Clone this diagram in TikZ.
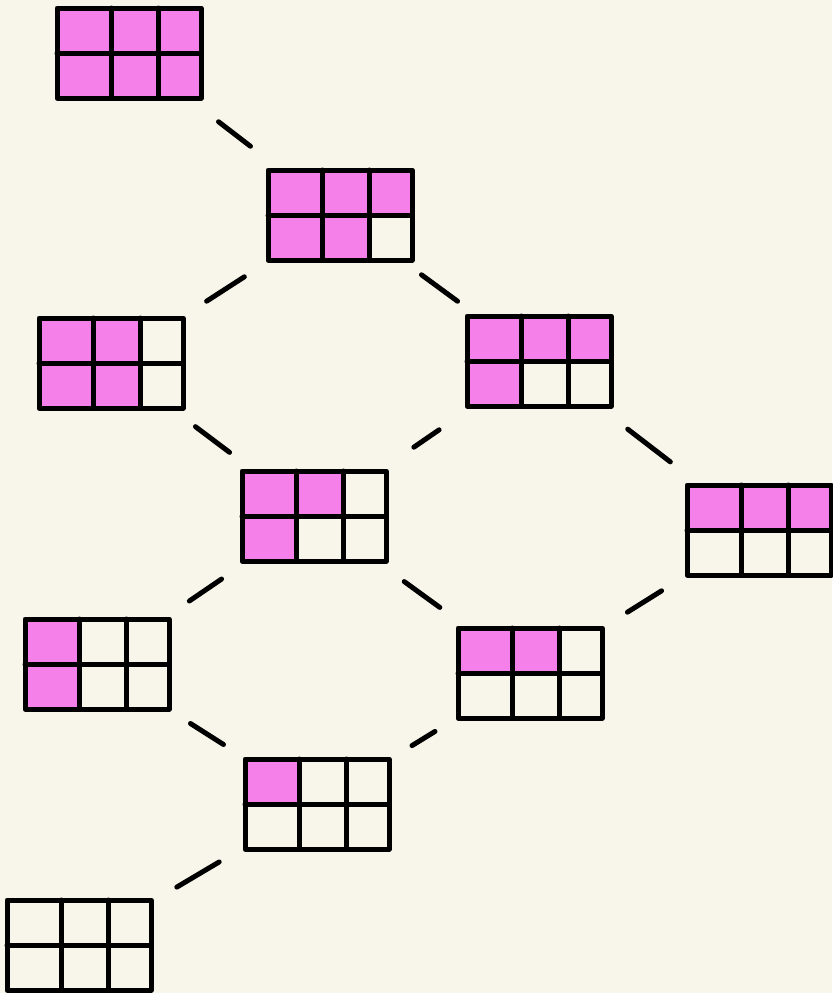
\documentclass[tikz,border=0pt]{standalone}
\usetikzlibrary{calc}
\definecolor{paper}{RGB}{248,246,234}
\definecolor{tilepink}{RGB}{246,128,233}
\tikzstyle{tile} = [rectangle, minimum width=72pt, minimum height=45pt, inner sep=0pt, outer sep=0pt]
\tikzstyle{rule} = [line width=2.5pt, line cap=round, line join=round]
\tikzset{
    link/.style={line width=2.5pt, line cap=round, shorten <=#1, shorten >=#1},
    link/.default=15pt,
}
% right edges of the three columns, measured from the left side
\newcommand{\colwidth}[1]{\ifcase#1 0pt\or 27pt\or 50.5pt\else 72pt\fi}
% #1 name, #2 position, #3 cells in top row, #4 cells in bottom row
\newcommand{\tableau}[4]{%
    \node[tile] (#1) at (#2) {};
    \ifnum#3>0 \fill[tilepink, rounded corners=3pt] (#1.north west) rectangle ++(\colwidth{#3},-22.5pt);\fi
    \ifnum#4>0 \fill[tilepink, rounded corners=3pt] (#1.west) rectangle ++(\colwidth{#4},-22.5pt);\fi
    \draw[rule] (#1.north west) rectangle (#1.south east);
    \draw[rule] (#1.west) -- (#1.east);
    \foreach \k in {27pt,50.5pt}
        \draw[rule] ($(#1.north west)+(\k,0)$) -- ($(#1.south west)+(\k,0)$);
}

\begin{document}
\begin{tikzpicture}[x=0.5pt, y=-0.5pt]
    \fill[paper] (0,0) rectangle (832,993);
    \useasboundingbox (0,0) rectangle (832,993);

    \tableau{p33}{129,53}{3}{3}
    \tableau{p32}{340,215}{3}{2}
    \tableau{p22}{111,363}{2}{2}
    \tableau{p31}{539,361}{3}{1}
    \tableau{p21}{314,516}{2}{1}
    \tableau{p3}{759,530}{3}{0}
    \tableau{p11}{97,664}{1}{1}
    \tableau{p2}{530,673}{2}{0}
    \tableau{p1}{317,804}{1}{0}
    \tableau{p0}{79,945}{0}{0}

    \draw[link=19.5pt] (p33) -- (p32);
    \draw[link=15.5pt] (p32) -- (p22);
    \draw[link=12.5pt] (p32) -- (p31);
    \draw[link=15.5pt] (p22) -- (p21);
    \draw[link=21pt] (p31) -- (p21);
    \draw[link=19pt] (p31) -- (p3);
    \draw[link=16pt] (p21) -- (p11);
    \draw[link=17.5pt] (p21) -- (p2);
    \draw[link] (p3) -- (p2);
    \draw[link=13.5pt] (p11) -- (p1);
    \draw[link=13.5pt] (p2) -- (p1);
    \draw[link] (p1) -- (p0);
\end{tikzpicture}
\end{document}
